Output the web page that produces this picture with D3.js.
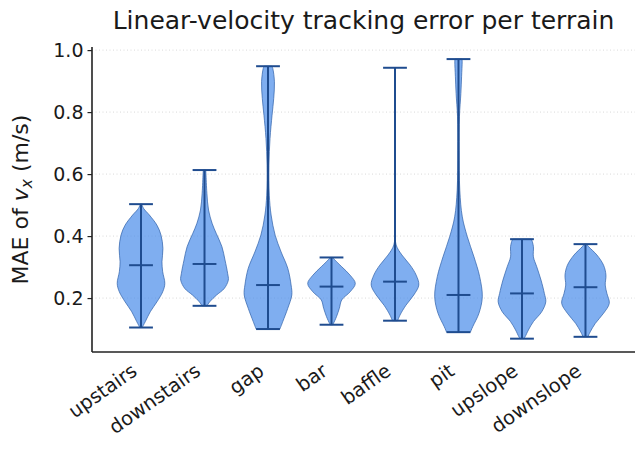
<!DOCTYPE html>
<html>
<head>
<meta charset="utf-8">
<script src="https://cdn.jsdelivr.net/npm/d3@7"></script>
<style>
  body { margin: 0; background: #fff; }
  svg { font-family: "DejaVu Sans", sans-serif; }
</style>
</head>
<body>
<div id="chart-area"></div>
<script>
// terrains, in plot order
var terrains = ["upstairs", "downstairs", "gap", "bar", "baffle", "pit", "upslope", "downslope"];

var mins    = [0.105, 0.175, 0.100, 0.114, 0.127, 0.090, 0.069, 0.075];
var maxs    = [0.503, 0.613, 0.948, 0.331, 0.943, 0.971, 0.390, 0.374];
var medians = [0.306, 0.310, 0.242, 0.237, 0.253, 0.210, 0.215, 0.235];

// violin outlines: [value, relative half-width]
var upstairsProfile = [[0.105,0.05],[0.124,0.18],[0.156,0.39],[0.188,0.67],[0.22,0.91],[0.247,1.0],
  [0.285,0.91],[0.317,0.88],[0.36,0.92],[0.403,0.84],[0.435,0.67],[0.468,0.35],[0.489,0.11],[0.503,0.03]];
var downstairsProfile = [[0.175,0.1],[0.188,0.22],[0.21,0.51],[0.231,0.83],[0.258,1.0],[0.28,0.97],
  [0.323,0.86],[0.366,0.73],[0.409,0.49],[0.441,0.32],[0.484,0.17],[0.538,0.10],[0.602,0.06],[0.613,0.05]];
var gapProfile = [[0.1,0.5],[0.124,0.62],[0.167,0.83],[0.21,1.0],[0.242,0.97],[0.296,0.83],[0.349,0.55],
  [0.403,0.3],[0.468,0.13],[0.532,0.055],[0.629,0.04],[0.715,0.085],[0.79,0.17],[0.844,0.24],[0.898,0.27],
  [0.941,0.2],[0.948,0.16]];
var barProfile = [[0.114,0.05],[0.118,0.08],[0.14,0.21],[0.167,0.33],[0.194,0.43],[0.22,0.78],[0.247,1.0],
  [0.274,0.78],[0.301,0.43],[0.323,0.14],[0.331,0.05]];
var baffleProfile = [[0.127,0.11],[0.145,0.21],[0.177,0.46],[0.21,0.79],[0.242,1.0],[0.274,0.89],
  [0.306,0.64],[0.339,0.29],[0.371,0.05],[0.42,0.01],[0.6,0.005],[0.943,0.005]];
var pitProfile = [[0.09,0.5],[0.108,0.6],[0.151,0.86],[0.204,1.0],[0.269,0.89],[0.333,0.65],[0.398,0.37],
  [0.462,0.16],[0.548,0.055],[0.677,0.03],[0.785,0.04],[0.86,0.1],[0.914,0.13],[0.962,0.155],[0.971,0.15]];
var upslopeProfile = [[0.069,0.08],[0.075,0.13],[0.097,0.27],[0.124,0.48],[0.156,0.83],[0.188,1.0],
  [0.215,0.94],[0.258,0.8],[0.301,0.62],[0.333,0.48],[0.366,0.48],[0.387,0.41],[0.39,0.38]];
var downslopeProfile = [[0.075,0.1],[0.091,0.2],[0.118,0.41],[0.151,0.76],[0.183,1.0],[0.215,0.9],
  [0.242,0.83],[0.274,0.86],[0.306,0.76],[0.339,0.48],[0.366,0.13],[0.374,0.05]];

var profiles = [upstairsProfile, downstairsProfile, gapProfile, barProfile,
                baffleProfile, pitProfile, upslopeProfile, downslopeProfile];

var yTicks = [0.2, 0.4, 0.6, 0.8, 1.0];

var W = 644, H = 456;
var margin = { left: 92, right: 9, top: 47, bottom: 104 };
var width = W - margin.left - margin.right,
    height = H - margin.top - margin.bottom;

var svg = d3.select("#chart-area").append("svg")
    .attr("width", W)
    .attr("height", H);

var g = svg.append("g")
    .attr("transform", "translate(" + margin.left + "," + margin.top + ")");

// positions 1..n like matplotlib violinplot
var x = d3.scaleLinear().domain([0.228, 8.78]).range([0, width]);
var y = d3.scaleLinear().domain([0.026, 1.01]).range([height, 0]);
var violinWidth = 0.75;
var hw = d3.scaleLinear().domain([0, 1]).range([0, x(1 + violinWidth / 2) - x(1)]);
var capHalf = x(1 + violinWidth / 4) - x(1);

// grid
g.append("g").selectAll("line")
  .data(yTicks)
  .enter().append("line")
    .attr("x1", 0).attr("x2", width)
    .attr("y1", function(d) { return y(d); })
    .attr("y2", function(d) { return y(d); })
    .attr("stroke", "#b0b0b0")
    .attr("stroke-opacity", 0.6)
    .attr("stroke-width", 0.8)
    .attr("stroke-dasharray", "1,2.5");

// violins
var lineColor = "#1f4c8f";
terrains.forEach(function(t, i) {
  var cx = x(i + 1);
  var area = d3.area()
      .y(function(d) { return y(d[0]); })
      .x0(function(d) { return cx - hw(d[1]); })
      .x1(function(d) { return cx + hw(d[1]); })
      .curve(d3.curveCatmullRom);

  g.append("path")
    .attr("d", area(profiles[i]))
    .attr("fill", "#488bea")
    .attr("fill-opacity", 0.7)
    .attr("stroke", "#2d5fa8")
    .attr("stroke-opacity", 0.7)
    .attr("stroke-width", 1);

  // bar, caps, median
  g.append("line")
    .attr("x1", cx).attr("x2", cx)
    .attr("y1", y(mins[i])).attr("y2", y(maxs[i]))
    .attr("stroke", lineColor).attr("stroke-width", 2);

  [mins[i], maxs[i], medians[i]].forEach(function(v) {
    g.append("line")
      .attr("x1", cx - capHalf).attr("x2", cx + capHalf)
      .attr("y1", y(v)).attr("y2", y(v))
      .attr("stroke", lineColor).attr("stroke-width", 2);
  });
});

// Y Axis
var yAxisGroup = g.append("g")
  .call(d3.axisLeft(y).tickValues(yTicks).tickFormat(d3.format(".1f")).tickSize(4.5).tickPadding(4));
yAxisGroup.select(".domain").attr("stroke", "#222").attr("stroke-width", 1.6)
  .attr("d", "M0," + height + "V0");
yAxisGroup.selectAll(".tick line").attr("stroke", "#222").attr("stroke-width", 1.2);
yAxisGroup.selectAll(".tick text").attr("font-size", "19px").attr("fill", "#1a1a1a")
  .attr("font-family", "DejaVu Sans");

// X Axis (line only, rotated labels)
g.append("line")
  .attr("x1", 0).attr("x2", width)
  .attr("y1", height).attr("y2", height)
  .attr("stroke", "#222").attr("stroke-width", 1.6);

var xFont = 19.5, rot = 35;
var rad = rot * Math.PI / 180;
g.append("g").selectAll("text")
  .data(terrains)
  .enter().append("text")
    .attr("text-anchor", "end")
    .attr("font-size", xFont + "px")
    .attr("fill", "#1a1a1a")
    .attr("transform", function(d, i) {
      var px = x(i + 1) - Math.sin(rad) * 0.236 * xFont;
      var py = height + 7 + Math.cos(rad) * 0.93 * xFont;
      return "translate(" + px + "," + py + ") rotate(" + (-rot) + ")";
    })
    .text(function(d) { return d; });

// Y Label
var ylab = svg.append("text")
  .attr("transform", "translate(28," + (margin.top + height / 2) + ") rotate(-90)")
  .attr("text-anchor", "middle")
  .attr("font-size", "22px")
  .attr("fill", "#1a1a1a");
ylab.append("tspan").text("MAE of ");
ylab.append("tspan").attr("font-style", "italic").text("v");
ylab.append("tspan").attr("font-style", "italic").attr("font-size", "15.5px").attr("dy", 4).text("x");
ylab.append("tspan").attr("dy", -4).text(" (m/s)");

// Title
svg.append("text")
  .attr("x", margin.left + width / 2)
  .attr("y", 29)
  .attr("text-anchor", "middle")
  .attr("font-size", "25px")
  .attr("fill", "#1a1a1a")
  .text("Linear-velocity tracking error per terrain");
</script>
</body>
</html>
